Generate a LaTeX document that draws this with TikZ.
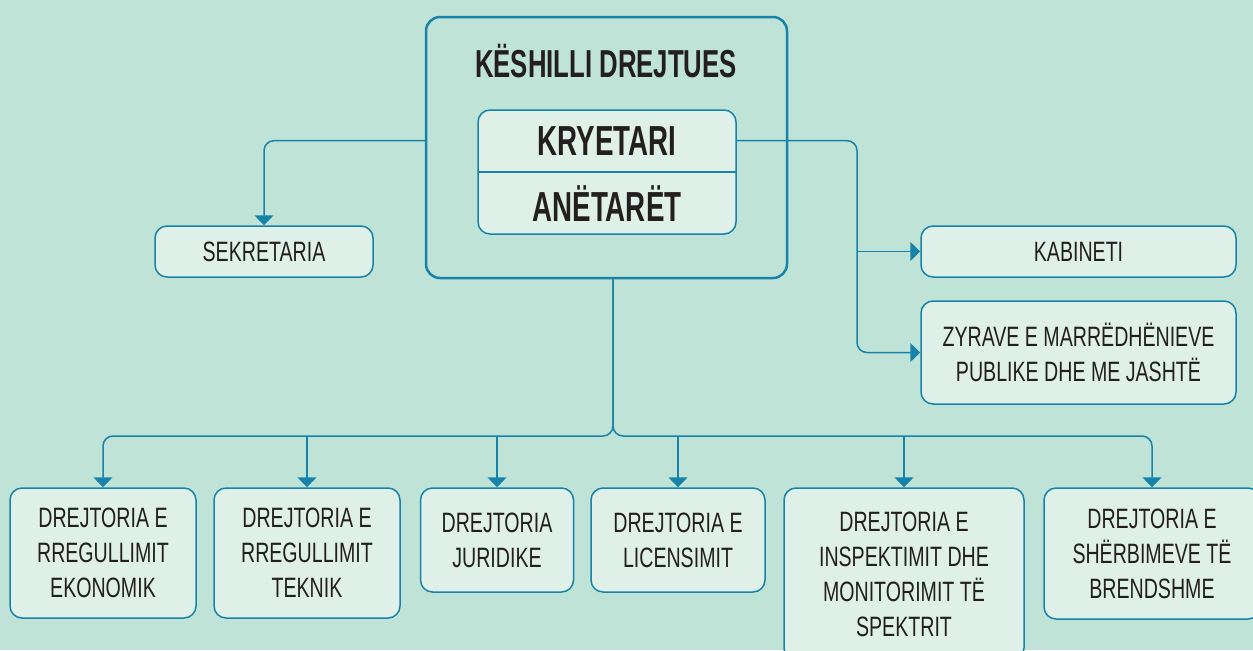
\documentclass[tikz,border=0pt]{standalone}
\usepackage{fontspec}
\setmainfont{Liberation Sans}[FakeStretch=0.70]
\newfontfamily\headfont{Liberation Sans}[FakeStretch=0.66]
\usetikzlibrary{arrows.meta,positioning}

\definecolor{canvas}{RGB}{191,227,214}
\definecolor{boxfill}{RGB}{223,240,232}
\definecolor{linkblue}{RGB}{24,131,170}
\definecolor{inkdark}{RGB}{35,31,32}

\tikzset{
  unit/.style={draw=linkblue, line width=0.75pt, fill=boxfill, rounded corners=6pt,
    inner sep=0pt, align=center, text=inkdark, font=\fontsize{14}{17.5}\selectfont},
  board/.style={draw=linkblue, line width=1.25pt, rounded corners=7pt,
    minimum width=180.5pt, minimum height=130.5pt},
  headtext/.style={text=inkdark, inner sep=0pt, font=\headfont\bfseries\fontsize{19.5}{22}\selectfont},
  ranktext/.style={text=inkdark, inner sep=0pt, minimum width=129pt, minimum height=31pt,
    font=\headfont\bfseries\fontsize{21}{24}\selectfont},
  link/.style={draw=linkblue, line width=0.75pt, rounded corners=5pt,
    -{Triangle[width=9.5pt,length=5pt]}}
}

\begin{document}
\begin{tikzpicture}[x=0.5pt, y=-0.5pt]

    \useasboundingbox (0,0) rectangle (1253,650);
    \fill[canvas] (0,0) rectangle (1253,650);
    \clip (0,0) rectangle (1253,650);

    % council
    \node (board) [board] at (606.5,147.5) {};
    \node (title) [headtext, anchor=base] at (606,77) {KËSHILLI DREJTUES};
    \node (council) [unit, minimum width=129pt, minimum height=62pt] at (607,172) {};
    \node (chair) [ranktext, below=0pt of council.north] {KRYETARI};
    \node (members) [ranktext, above=0pt of council.south] {ANËTARËT};
    \draw[linkblue, line width=0.75pt] (chair.south west) -- (chair.south east);

    % offices
    \node (secretariat) [unit, minimum width=109pt, minimum height=25.5pt] at (264,251.5) {SEKRETARIA};
    \node (cabinet) [unit, minimum width=157.5pt, minimum height=25.5pt] at (1078.5,251.5) {KABINETI};
    \node (relations) [unit, minimum width=157.5pt, minimum height=51.5pt] at (1078.5,352.5) {ZYRAVE E MARRËDHËNIEVE\\PUBLIKE DHE ME JASHTË};

    % directorates
    \node (economic) [unit, minimum width=93pt, minimum height=65pt] at (103,553) {DREJTORIA E\\RREGULLIMIT\\EKONOMIK};
    \node (technical) [unit, minimum width=93pt, minimum height=65pt] at (307,553) {DREJTORIA E\\RREGULLIMIT\\TEKNIK};
    \node (legal) [unit, minimum width=76.5pt, minimum height=52pt] at (497,540) {DREJTORIA\\JURIDIKE};
    \node (licensing) [unit, minimum width=87pt, minimum height=52pt] at (678,540) {DREJTORIA E\\LICENSIMIT};
    \node (spectrum) [unit, minimum width=120pt, minimum height=86pt] at (904,574) {DREJTORIA E\\INSPEKTIMIT DHE\\MONITORIMIT TË\\SPEKTRIT};
    \node (services) [unit, minimum width=108pt, minimum height=65.5pt] at (1152,553.5) {DREJTORIA E\\SHËRBIMEVE TË\\BRENDSHME};

    \coordinate (hub) at (613,436);
    \coordinate (rbus) at (857,300);

    \draw[link] (board.west |- chair) -| (secretariat.north);
    \draw[link] (chair.east) -| (rbus |- relations.west) -- (relations.west);
    \draw[link] (rbus |- cabinet.west) -- (cabinet.west);

    \draw[link] (hub |- board.south) |- (economic.north |- hub) -- (economic.north);
    \draw[link] (hub |- board.south) |- (services.north |- hub) -- (services.north);
    \draw[link] (technical.north |- hub) -- (technical.north);
    \draw[link] (legal.north |- hub) -- (legal.north);
    \draw[link] (licensing.north |- hub) -- (licensing.north);
    \draw[link] (spectrum.north |- hub) -- (spectrum.north);
\end{tikzpicture}
\end{document}
